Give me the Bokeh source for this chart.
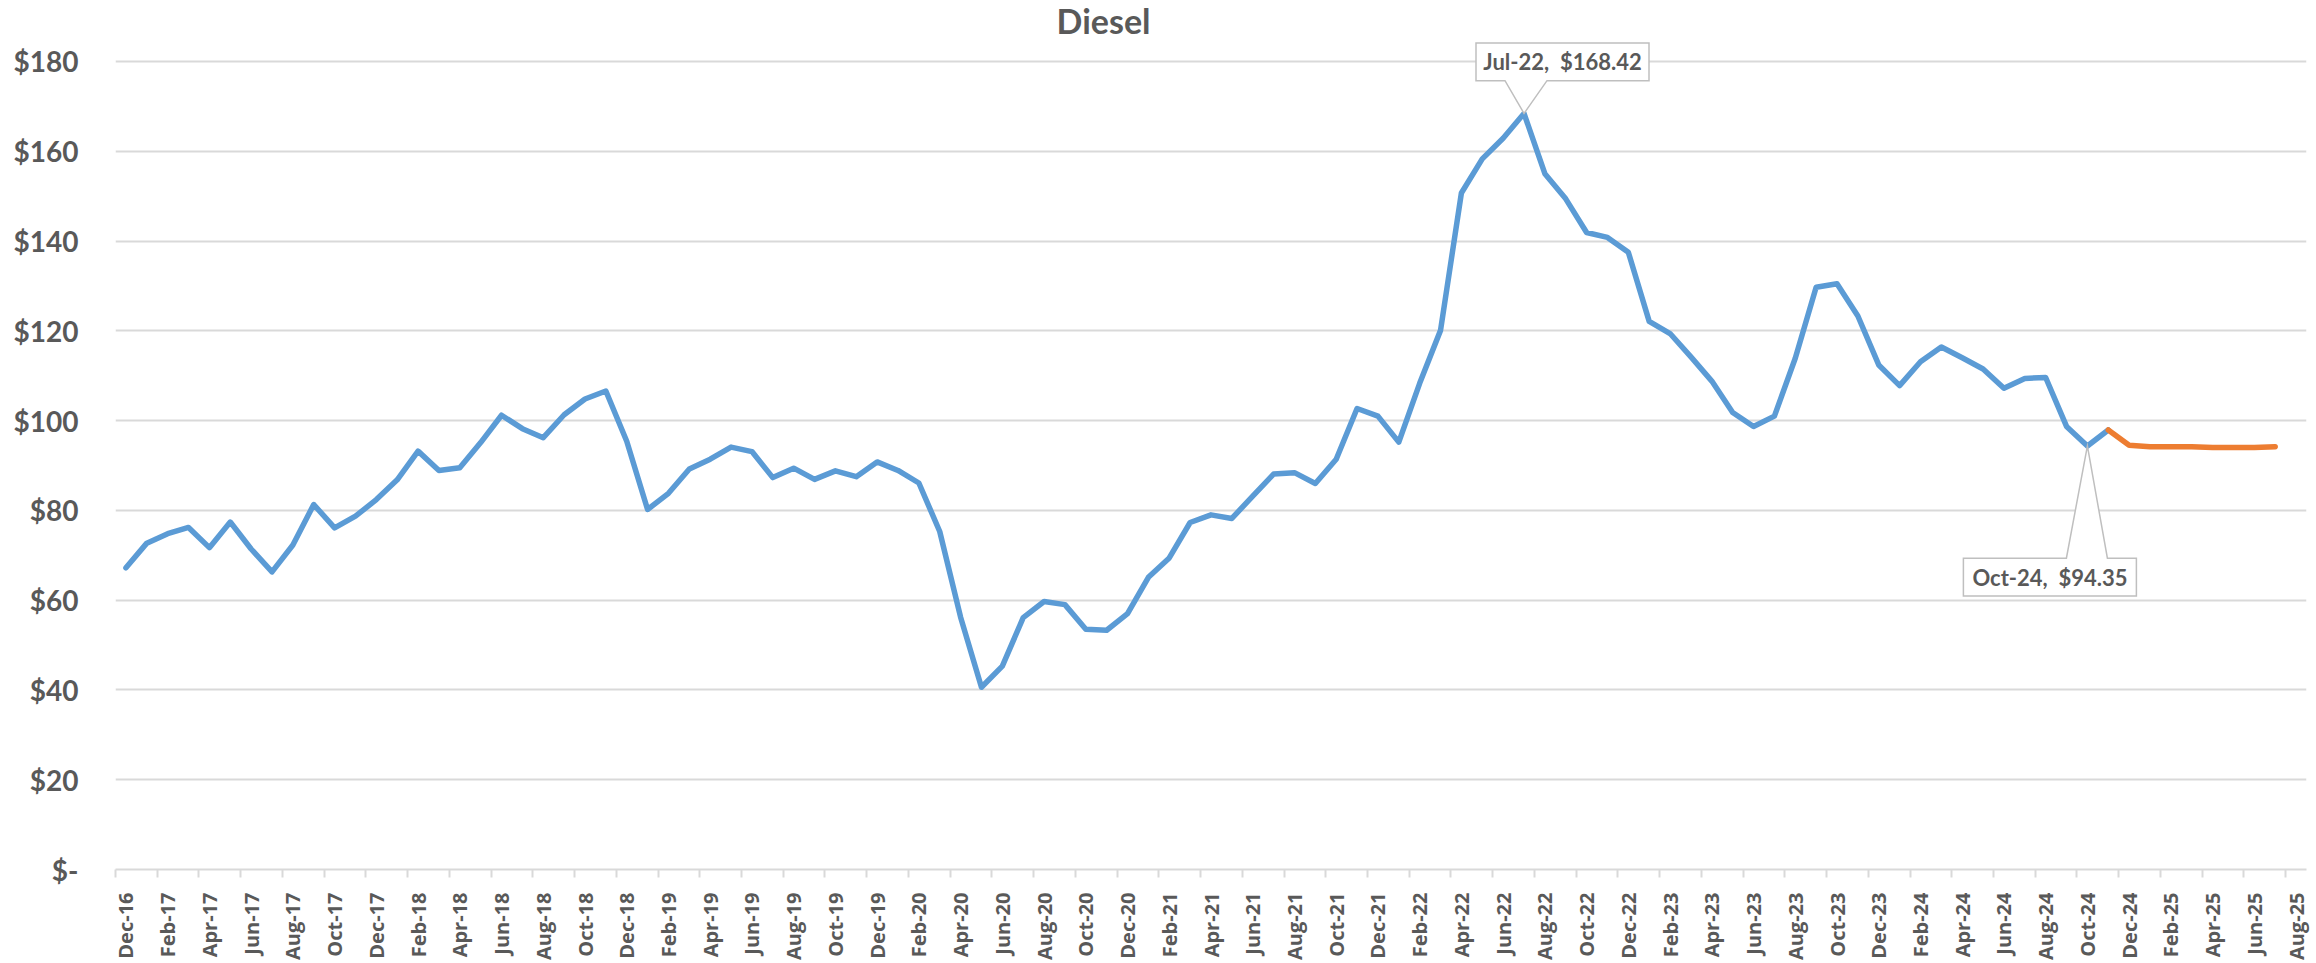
import pandas as pd
from bokeh.plotting import figure
from bokeh.models import Range1d, FixedTicker
from bokeh.core.properties import value
from bokeh.embed import file_html
from bokeh.resources import INLINE

# ---------------- data ----------------
months = list(pd.date_range("2016-12-01", periods=105, freq="MS").strftime("%b-%y"))

actual = [67.2, 72.7, 74.8, 76.2, 71.7, 77.4, 71.4, 66.3, 72.3, 81.3, 76.1, 78.7,
          82.4, 86.8, 93.2, 88.9, 89.5, 95.1, 101.2, 98.2, 96.2, 101.3, 104.8, 106.6,
          95.4, 80.2, 83.8, 89.2, 91.4, 94.1, 93.1, 87.3, 89.4, 86.9, 88.8, 87.5,
          90.8, 88.9, 86.1, 75.3, 56.2, 40.6, 45.3, 56.1, 59.7, 59.0, 53.5, 53.3,
          57.0, 65.1, 69.4, 77.3, 79.0, 78.2, 83.2, 88.1, 88.4, 86.0, 91.4, 102.7,
          101.0, 95.2, 108.3, 120.1, 150.7, 158.3, 162.9, 168.42, 155.0, 149.4, 141.9, 140.8,
          137.5, 122.1, 119.4, 114.2, 108.8, 101.8, 98.7, 101.0, 113.9, 129.7, 130.5, 123.3,
          112.4, 107.8, 113.1, 116.4, 114.0, 111.5, 107.2, 109.4, 109.6, 98.7, 94.35, 97.9]
forecast = [97.9, 94.5, 94.2, 94.2, 94.2, 94.0, 94.0, 94.0, 94.2]
forecast_start = len(actual) - 1

y_ticks = [0, 20, 40, 60, 80, 100, 120, 140, 160, 180]
y_tick_labels = ["$-", "$20", "$40", "$60", "$80", "$100", "$120", "$140", "$160", "$180"]

peak_idx = 67      # Jul-22
low_idx = 94       # Oct-24

# ---------------- layout ----------------
W, H = 2316, 963
LEFT, BOTTOM = 115, 88
FRAME_W = 2191
RIGHT = W - LEFT - FRAME_W
FRAME_H = H - BOTTOM
N = len(months)
PX = FRAME_W / N            # px per category
PY = 4.52                   # px per dollar
YMAX = FRAME_H / PY

GREY_TXT = "#595959"
GRID = "#d9d9d9"
BLUE = "#5b9bd5"
ORANGE = "#ed7d31"

p = figure(width=W, height=H, x_range=Range1d(-0.5, N - 0.5), y_range=Range1d(0, YMAX),
           output_backend="svg", toolbar_location=None,
           min_border_left=LEFT, min_border_right=RIGHT, min_border_top=0,
           min_border_bottom=BOTTOM)
p.outline_line_color = None
p.background_fill_color = "white"
p.border_fill_color = "white"

# y axis
p.yaxis.ticker = FixedTicker(ticks=y_ticks)
p.yaxis.major_label_overrides = {t: l for t, l in zip(y_ticks, y_tick_labels)}
p.yaxis.axis_line_color = None
p.yaxis.major_tick_line_color = None
p.yaxis.major_tick_out = 0
p.yaxis.minor_tick_line_color = None
p.yaxis.major_label_standoff = 37
p.yaxis.major_label_text_font = "Lato"
p.yaxis.major_label_text_font_style = "bold"
p.yaxis.major_label_text_font_size = "28px"
p.yaxis.major_label_text_color = GREY_TXT

p.ygrid.ticker = FixedTicker(ticks=y_ticks)
p.ygrid.grid_line_color = GRID
p.ygrid.grid_line_width = 2
p.xgrid.grid_line_color = None

# x axis
label_pos = list(range(0, N, 2))
bounds = [i - 0.5 for i in range(0, N + 1, 2)]
p.xaxis.ticker = FixedTicker(ticks=label_pos, minor_ticks=bounds)
p.xaxis.major_label_overrides = {i: months[i] for i in label_pos}
p.xaxis.major_label_orientation = 3.14159265 / 2
p.xaxis.axis_line_color = GRID
p.xaxis.axis_line_width = 2
p.xaxis.major_tick_line_color = None
p.xaxis.major_tick_out = 0
p.xaxis.major_tick_in = 0
p.xaxis.minor_tick_line_color = GRID
p.xaxis.minor_tick_line_width = 2
p.xaxis.minor_tick_out = 8
p.xaxis.minor_tick_in = 0
p.xaxis.major_label_standoff = 15
p.xaxis.major_label_text_font = "Open Sans"
p.xaxis.major_label_text_font_style = "bold"
p.xaxis.major_label_text_font_size = "20px"
p.xaxis.major_label_text_color = GREY_TXT

# series
p.line(list(range(len(actual))), actual, line_color=BLUE, line_width=5.5, line_join="round", line_cap="round")
p.line(list(range(forecast_start, forecast_start + len(forecast))), forecast,
       line_color=ORANGE, line_width=5.5, line_join="round", line_cap="round")

# title
p.text(x=[46.85], y=[YMAX - 20 / PY], text=["Diesel"], text_font=value("Lato"),
       text_font_style="bold", text_font_size="34px", text_color=GREY_TXT,
       text_align="center", text_baseline="middle")


def callout(i, v, L, R, T, B, b1, b2, above):
    def cx(dx):
        return i + dx / PX

    def cy(dy):
        return v - dy / PY
    if above:
        pts = [(L, T), (R, T), (R, B), (b2, B), (0, 0), (b1, B), (L, B)]
    else:
        pts = [(L, T), (b1, T), (0, 0), (b2, T), (R, T), (R, B), (L, B)]
    p.patch([cx(a) for a, b in pts], [cy(b) for a, b in pts], fill_color="white",
            line_color="#bfbfbf", line_width=1.5, line_join="miter")
    txt = f"{months[i]},\u00a0 ${v:.2f}"
    p.text(x=[cx((L + R) / 2)], y=[cy((T + B) / 2)], text=[txt], text_font=value("Lato"),
           text_font_style="bold", text_font_size="22px", text_color=GREY_TXT,
           text_align="center", text_baseline="middle")


callout(peak_idx, actual[peak_idx], -48, 125, -71, -33, -19, 23, True)
callout(low_idx, actual[low_idx], -124, 49, 113, 151, -21, 20, False)

open("out.html", "w").write(file_html(p, INLINE))
